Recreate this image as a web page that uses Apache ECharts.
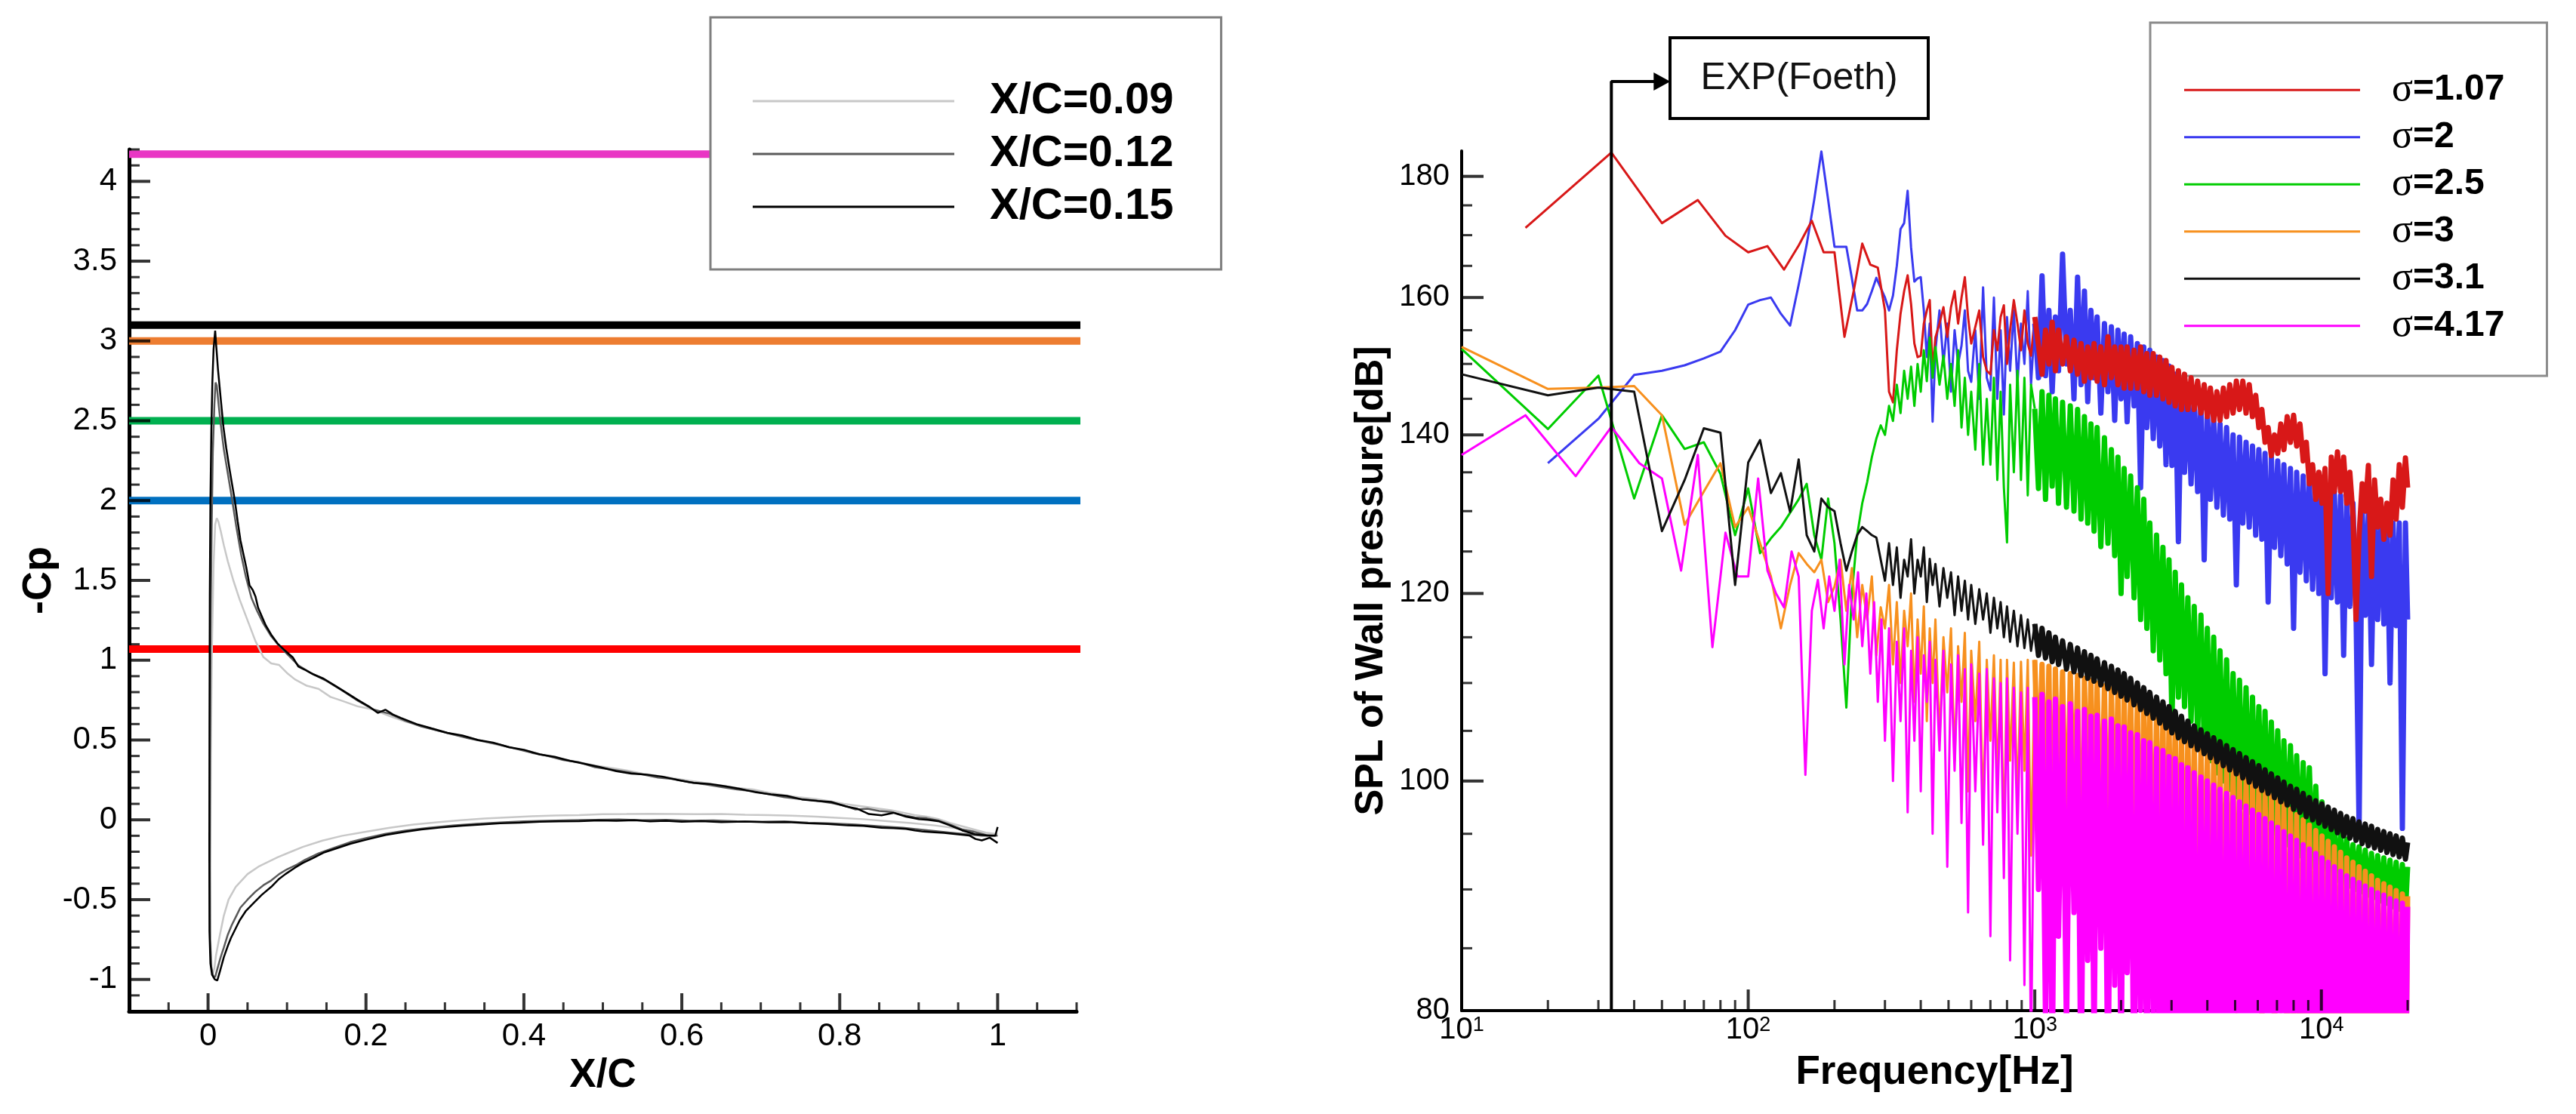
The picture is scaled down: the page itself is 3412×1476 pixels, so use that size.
<!DOCTYPE html>
<html>
<head>
<meta charset="utf-8">
<title>-Cp distribution and wall pressure spectra</title>
<script src="https://cdn.jsdelivr.net/npm/echarts@6/dist/echarts.min.js"></script>
<style>
html, body { margin: 0; padding: 0; background: #fff; }
#main { width: 3412px; height: 1476px; }
</style>
</head>
<body>
<div id="main"></div>
<script>
// ---------- left panel: -Cp along the chord ----------
var CP_NAMES = ['X/C=0.09', 'X/C=0.12', 'X/C=0.15'];
var CP_COLORS = ['#c8c8c8', '#5a5a5a', '#000000'];
var XC_LABELS = [0, 0.2, 0.4, 0.6, 0.8, 1];
var CP_LABELS = [-1, -0.5, 0, 0.5, 1, 1.5, 2, 2.5, 3, 3.5, 4];

// cavitation numbers drawn as horizontal levels
var SIGMA_LEVELS = [4.17, 3.1, 3, 2.5, 2, 1.07];
var SIGMA_COLORS = ['#e936c4', '#000000', '#ed7d31', '#00b050', '#0070c0', '#ff0000'];

// trailing edge -> suction side -> leading edge -> pressure side -> trailing edge
var CP09 = [
  [1.0,-0.09],[0.985,-0.08],[0.97,-0.06],[0.955,-0.04],[0.94,-0.02],[0.925,0.005],[0.91,0.02],[0.895,0.03],[0.88,0.045],[0.865,0.06],
  [0.85,0.07],[0.835,0.08],[0.82,0.09],[0.805,0.1],[0.79,0.115],[0.77,0.13],[0.75,0.14],[0.73,0.155],[0.71,0.17],[0.69,0.19],
  [0.67,0.2],[0.65,0.215],[0.63,0.23],[0.61,0.245],[0.59,0.26],[0.57,0.275],[0.55,0.29],[0.53,0.31],[0.51,0.325],[0.49,0.34],
  [0.47,0.36],[0.45,0.38],[0.43,0.4],[0.41,0.425],[0.39,0.445],[0.37,0.465],[0.35,0.49],[0.33,0.515],[0.31,0.535],[0.29,0.56],
  [0.27,0.59],[0.25,0.615],[0.23,0.65],[0.21,0.69],[0.19,0.71],[0.17,0.745],[0.155,0.77],[0.14,0.82],[0.125,0.84],[0.11,0.88],
  [0.1,0.92],[0.09,0.97],[0.08,0.98],[0.07,1.02],[0.06,1.12],[0.05,1.25],[0.04,1.38],[0.032,1.5],[0.025,1.62],[0.02,1.72],
  [0.016,1.81],[0.013,1.87],[0.011,1.89],[0.009,1.85],[0.007,1.6],[0.005,1.1],[0.0035,0.4],[0.0028,-0.3],[0.003,-0.75],[0.0045,-0.93],
  [0.006,-0.96],[0.008,-0.93],[0.01,-0.85],[0.015,-0.72],[0.02,-0.6],[0.026,-0.5],[0.035,-0.42],[0.05,-0.34],[0.065,-0.29],[0.088,-0.235],
  [0.105,-0.2],[0.12,-0.17],[0.145,-0.13],[0.17,-0.1],[0.2,-0.075],[0.23,-0.05],[0.26,-0.03],[0.29,-0.015],[0.32,-0.002],[0.35,0.008],
  [0.38,0.015],[0.41,0.022],[0.44,0.027],[0.47,0.03],[0.5,0.035],[0.53,0.036],[0.56,0.038],[0.59,0.037],[0.62,0.035],[0.65,0.036],
  [0.68,0.032],[0.71,0.03],[0.74,0.026],[0.77,0.02],[0.8,0.012],[0.83,0.004],[0.86,-0.008],[0.89,-0.02],[0.92,-0.035],[0.95,-0.055],
  [0.975,-0.075],[1.0,-0.09]
];
var CP12 = [
  [1.0,-0.1],[0.985,-0.095],[0.97,-0.075],[0.955,-0.06],[0.94,-0.03],[0.925,-0.005],[0.91,0.01],[0.895,0.015],[0.88,0.03],[0.865,0.05],
  [0.85,0.055],[0.835,0.07],[0.82,0.065],[0.805,0.09],[0.79,0.105],[0.77,0.12],[0.75,0.13],[0.73,0.142],[0.71,0.16],[0.69,0.18],
  [0.67,0.19],[0.65,0.205],[0.63,0.222],[0.61,0.235],[0.59,0.255],[0.57,0.265],[0.55,0.285],[0.53,0.3],[0.51,0.315],[0.49,0.33],
  [0.47,0.36],[0.45,0.375],[0.43,0.4],[0.41,0.42],[0.39,0.445],[0.37,0.47],[0.35,0.49],[0.33,0.51],[0.31,0.535],[0.29,0.56],
  [0.27,0.585],[0.25,0.62],[0.23,0.665],[0.21,0.69],[0.19,0.745],[0.17,0.81],[0.15,0.87],[0.13,0.92],[0.115,0.965],[0.1,1.04],
  [0.09,1.09],[0.08,1.15],[0.07,1.23],[0.062,1.31],[0.055,1.39],[0.048,1.52],[0.042,1.66],[0.036,1.83],[0.03,2.02],[0.025,2.17],
  [0.02,2.32],[0.016,2.48],[0.013,2.62],[0.011,2.72],[0.0095,2.74],[0.008,2.6],[0.006,2.3],[0.0045,1.8],[0.0032,1.2],[0.0025,0.4],
  [0.0022,-0.3],[0.0025,-0.75],[0.004,-0.92],[0.0065,-0.98],[0.009,-0.985],[0.012,-0.93],[0.016,-0.86],[0.02,-0.8],[0.025,-0.72],[0.03,-0.66],
  [0.036,-0.6],[0.041,-0.55],[0.05,-0.5],[0.06,-0.45],[0.07,-0.41],[0.08,-0.38],[0.09,-0.34],[0.1,-0.31],[0.113,-0.28],[0.123,-0.25],
  [0.14,-0.21],[0.16,-0.175],[0.18,-0.14],[0.2,-0.115],[0.225,-0.088],[0.25,-0.068],[0.28,-0.05],[0.31,-0.035],[0.34,-0.025],[0.37,-0.017],
  [0.4,-0.01],[0.43,-0.006],[0.46,-0.003],[0.49,0.0],[0.52,0.002],[0.55,-0.002],[0.58,0.0],[0.61,-0.006],[0.64,-0.004],[0.67,-0.01],
  [0.7,-0.012],[0.73,-0.01],[0.76,-0.018],[0.79,-0.022],[0.82,-0.03],[0.85,-0.04],[0.88,-0.05],[0.91,-0.065],[0.94,-0.08],[0.96,-0.09],
  [0.98,-0.1],[1.0,-0.1]
];
var CP15 = [
  [1.0,-0.045],[0.997,-0.1],[0.987,-0.098],[0.971,-0.09],[0.955,-0.066],[0.939,-0.034],[0.926,-0.01],[0.912,0.0],[0.9,0.005],[0.884,0.02],
  [0.868,0.044],[0.853,0.028],[0.837,0.036],[0.822,0.07],[0.808,0.084],[0.789,0.112],[0.772,0.118],[0.752,0.128],[0.733,0.15],[0.713,0.159],
  [0.694,0.172],[0.674,0.194],[0.655,0.21],[0.635,0.225],[0.615,0.232],[0.596,0.248],[0.576,0.27],[0.556,0.283],[0.536,0.29],[0.517,0.305],
  [0.497,0.33],[0.478,0.35],[0.458,0.37],[0.439,0.395],[0.42,0.41],[0.4,0.439],[0.381,0.455],[0.361,0.484],[0.342,0.5],[0.322,0.528],
  [0.303,0.545],[0.283,0.573],[0.264,0.6],[0.244,0.639],[0.234,0.66],[0.2245,0.69],[0.215,0.67],[0.205,0.706],[0.19,0.75],[0.1756,0.795],
  [0.161,0.84],[0.1464,0.884],[0.134,0.91],[0.1219,0.942],[0.1143,0.96],[0.1073,1.018],[0.0975,1.06],[0.0878,1.106],[0.08,1.16],[0.0731,1.218],
  [0.0634,1.329],[0.06,1.4],[0.0566,1.44],[0.0525,1.47],[0.0487,1.574],[0.045,1.66],[0.041,1.752],[0.0375,1.87],[0.034,1.997],[0.0305,2.1],
  [0.0272,2.197],[0.023,2.33],[0.0194,2.464],[0.016,2.64],[0.0126,2.82],[0.0105,2.96],[0.009,3.065],[0.007,2.95],[0.0055,2.75],[0.0042,2.45],
  [0.003,2.0],[0.0022,1.4],[0.0018,0.6],[0.0016,-0.2],[0.0018,-0.7],[0.003,-0.9],[0.005,-0.97],[0.0085,-1.0],[0.0117,-1.007],[0.015,-0.95],
  [0.02,-0.86],[0.025,-0.79],[0.029,-0.74],[0.035,-0.68],[0.04,-0.63],[0.048,-0.57],[0.058,-0.52],[0.068,-0.47],[0.08,-0.42],[0.09,-0.37],
  [0.098,-0.34],[0.11,-0.3],[0.12,-0.27],[0.133,-0.24],[0.146,-0.206],[0.162,-0.18],[0.18,-0.15],[0.2,-0.125],[0.225,-0.095],[0.25,-0.075],
  [0.27,-0.06],[0.295,-0.048],[0.322,-0.037],[0.345,-0.03],[0.37,-0.022],[0.395,-0.018],[0.42,-0.012],[0.445,-0.01],[0.47,-0.008],[0.495,-0.004],
  [0.517,-0.006],[0.54,-0.003],[0.56,-0.01],[0.58,-0.006],[0.6,-0.012],[0.625,-0.008],[0.65,-0.014],[0.68,-0.011],[0.71,-0.016],[0.735,-0.014],
  [0.76,-0.022],[0.785,-0.026],[0.81,-0.035],[0.83,-0.038],[0.853,-0.05],[0.868,-0.052],[0.884,-0.057],[0.895,-0.066],[0.906,-0.074],[0.92,-0.078],
  [0.932,-0.082],[0.948,-0.09],[0.964,-0.098],[0.972,-0.12],[0.98,-0.129],[0.99,-0.112],[1.0,-0.145]
];

// ---------- right panel: SPL of wall pressure ----------
var SPL_NAMES = ['σ=1.07', 'σ=2', 'σ=2.5', 'σ=3', 'σ=3.1', 'σ=4.17'];
var SPL_COLORS = ['#d81818', '#3a3af0', '#00cc00', '#f7901e', '#111111', '#ff00ff'];
var FREQ_LABELS = [10, 100, 1000, 10000];
var SPL_LABELS = [80, 100, 120, 140, 160, 180];
var EXP_FREQ = 33.3;

var FREQ_LO = [10,20,30,40,50,60,70,80,90,100,110,120,130,140,150,160,170,180,190,200,210,220,230,240,250,260,270,280,290];
var FREQ_HI = [
  300,310,320,330,340,350,360,370,380,390,
  400,410,420,430,440,450,465,480,495,510,
  525,540,555,570,585,600,620,640,660,680,
  700,720,740,760,780,800,820,845,870,895,
  920,945,970,1000,1030,1060,1090,1120,1150,1180,
  1210,1250,1290,1330,1370,1410,1450,1490,1530,1570,
  1610,1650,1700,1750,1800,1850,1900,1950,2000,2050,
  2100,2160,2220,2280,2340,2400,2460,2520,2590,2660,
  2730,2800,2870,2940,3010,3090,3170,3250,3330,3420,
  3510,3600,3700,3800,3900,4000,4100,4210,4320,4430,
  4550,4670,4790,4920,5050,5180,5320,5460,5600,5750,
  5900,6050,6200,6360,6520,6690,6860,7040,7220,7400,
  7600,7800,8000,8200,8420,8640,8860,9080,9320,9560,
  9800,10050,10300,10560,10830,11100,11380,11670,11960,12260,
  12570,12890,13210,13540,13880,14230,14590,14960,15330,15720,
  16110,16520,16930,17360,17790,18240,18700,19170,19650,20000
];
// sigma=1.07 and sigma=4.17 have their own low-frequency bins
var RED_LO_F = [16.7,33.3,50,66.7,83.3,100,116.7,133.3,150,166.7,183.3,200,216.7,233.3,250,266.7,283.3];
var MAG_LO_F = [10,16.7,25,33.3,41.7,50,58.3,66.7,75,83.3,91.7,100,108.3,116.7,125,133.3,141.7,150,158.3,166.7,
  175,183.3,191.7,200,208.3,216.7,225,233.3,241.7,250,258.3,266.7,275,283.3,291.7];

var RED_LO = [171.2,184.2,172,175.9,169.9,167.2,168.2,164.4,168.3,172.4,167.2,167.2,154,161,168.6,165.2,164.7];
var RED_HI = [
  158,146,144.5,152,157.5,161,163.5,159,153,151,
  151.2,156,158,159.6,149,153.9,156,158.5,154,158.5,
  161,156,160,163.2,157,153,155.5,158,151,149,
  148.5,155,152,157,158.8,150,155,159.6,156,152,
  158,153,151.2,157,152.7,148.5,155,150,156.2,149,
  155,150,154,149,153.5,148.5,153,147.5,152.5,148,
  153,147.5,152.5,147,154,148,152.5,147,152.5,146.5,
  152.5,146.5,152,146.5,152.5,146,151.5,145.5,151.5,145.5,
  151,145,150.5,144.5,149.5,144,149,143.5,148.5,143.5,
  148,143.5,147.5,143,147,142.5,146.5,142,146,142,
  146.5,142.5,147,143,147.5,143.5,147.5,143,147,142.5,
  145.5,141,143.5,139,141,137.2,140,137.5,141.5,138,
  142.5,139,142.7,138.5,141.5,136.5,139,133.5,136,131.5,
  135,131,135.5,120,137,132.5,137.7,132.5,137,131,
  135,129.5,117,127,133.5,130,135.9,122,134,128,
  131.5,126.5,131,127,134,129,136,130.5,136.9,133
];
var BLUE_LO = [136.2,142.2,148.4,149,149.8,150.8,151.8,155,158.9,159.6,160,157.5,155.7,162,168.5,176,184.4,176,168.1,
  168.1,168.1,163,158,158,159,161,163.1,161.5];
var BLUE_HI = [
  160,158,160.3,165,171,172,177.5,168,162.5,163,
  163.2,158,151,156,141.8,152,158,150,156,146,
  155,150,152.7,158,149,147.4,155,145,161.6,148,
  146.2,160,145,155,142.8,157,149,158,147,156,
  150,161,147,156,148,163.4,148.3,158,146,157,
  149,166.9,150,158,145,163.2,147,161,144.6,158,
  148,157,143,156,146,155.5,142,155,145,154.4,
  141.8,154,144,153,133,152.5,141,152,139.5,151,
  138.5,150.5,136,149.7,135.9,148.5,126.2,147.5,135,146,
  133.5,145.5,132.5,144.5,124,143.5,131.5,142.5,130.5,141.5,
  129.5,141,129,140,121,139.7,128.5,139,128,138.5,
  127,138,126.5,137.5,119,137,125.5,136.5,124.5,136,
  123.5,135.5,116,135,122.5,134.5,121.5,134,120.5,133.8,
  120,133.6,111,133,119.5,132.5,119,132,113,131.5,
  118.5,131,118,95.5,130.5,117.5,130,112,129.5,117,
  129,116.5,129,110,128.5,116.3,128.5,95.5,128.5,117
];
var GREEN_LO = [152.2,140.8,148.3,131.6,142.7,138.1,139,134.8,127,132.9,124.8,126.6,128,129.8,131.5,133.5,127,124,131.6,
  126,117,107.4,120,127,131,133.7,137,139.5,141.3];
var GREEN_HI = [
  140,144,141.9,147,143,149,145,149.6,144,150,
  146,152,147.5,153.9,148,152.5,147,151.2,145,150,
  144,152,141,148,140,146,138,150,136,145,
  136,148,134,146,133,126.1,147,135,149,134,
  148,132,147,143.6,132.9,146,131.5,145.5,133.2,145,
  131,144.5,130.5,144,130,143.5,129,142.5,128.5,141.5,
  127.5,141,125.6,139.6,126,138,124.5,137,120,135.5,
  122,134.5,119.5,133,117,131.5,116,128.5,113.5,127,
  112.5,125.5,111,124,106,122.5,108.5,121,107.5,119.5,
  106,118.5,104.5,117.5,103.5,116,102,115,100.8,113.5,
  100,112.5,99.2,111,98.5,110.3,97.5,109.5,97,108.5,
  96.5,107.5,96,107,95.5,105.9,95,105,94.5,104,
  94,103.5,93.5,102.5,93,101.8,92.5,101.3,92,99.5,
  91.8,98,91.5,96.4,91,95.5,90.8,95,90.5,94.5,
  90.3,94,90,93.8,89.8,93.5,89.5,93.2,89.3,93,
  89,92.8,88.8,92.6,88.5,92.4,88.3,92.2,88,92
];
var ORANGE_LO = [152.5,146.4,146.6,146.8,142.7,128.3,132.5,136.2,128,130.5,126,122,116,121,124.8,123.5,122.5,124,119,
  120.8,124,118,123,115,121,117,122,113,118.4];
var ORANGE_HI = [
  116,121,112,119,110,118,114,120,108,117,
  111,118.5,106,116,110,117,104,115,109,116,
  102,114,108,115.5,99,113.5,106,114.5,97,112.5,
  104,113,100,112.5,94,112.5,102,112.2,98,112.3,
  101,112.5,93,112.5,99,112,95,111.8,86,111.5,
  97,111.2,92,111,96,110.8,81,110.5,95,110.3,
  91,110,94,109.7,88,109.4,93,109.1,86,108.8,
  92,108.8,90,108.3,84,107.8,91,107.3,87,106.8,
  89,106.3,83,105.8,88,105.3,86,104.8,85,104.3,
  87,103.8,84,103.3,86,102.8,82,102.3,85,101.9,
  83,101.5,84,101.1,80,100.7,83,100.3,81,99.9,
  82,99.4,79,99,81,98.6,78,98.2,80,97.8,
  77,97.3,79,96.8,76,96.3,78,95.8,75,95.3,
  77,94.8,75,94.3,76,93.8,74,93.3,75,92.8,
  74,92.4,73,92,74,91.6,73,91.2,72,90.8,
  73,90.5,72,90.2,71,89.9,72,89.6,71,89.4
];
var BLACK_LO = [148.5,145.5,146.6,146,127.5,134,140.9,140.3,121,136.3,139.3,132.3,134.9,129.9,136.7,127,125,131.6,130.5,
  130,126,122.7,125,127,128,127.5,127,126.7,124];
var BLACK_HI = [
  121.5,126,121,125.5,119.5,124,122,126.5,120,124,
  122,125.5,119,124.1,121,123.5,118.5,123,119.5,122.5,
  117.5,122,118,121.5,117,121,116.5,120.5,117,120,
  115.5,119.5,116,119,115,118.5,114.5,118,114,117.5,
  113.8,117,113.5,116.5,113,116,112.7,115.5,112.3,115,
  112,114.6,111.5,114.2,111.2,113.8,110.8,113.4,110.5,113,
  110.2,112.6,109.8,112.2,109.4,111.8,109,111.4,108.6,111,
  108.2,110.5,107.7,110,107.2,109.5,106.8,109,106.3,108.5,
  105.8,108,105.3,107.5,104.8,107,104.3,106.5,103.9,106,
  103.5,105.5,103.1,105.1,102.7,104.7,102.3,104.3,101.9,103.9,
  101.5,103.5,101.1,103.1,100.7,102.7,100.3,102.3,99.9,101.9,
  99.5,101.5,99.1,101.1,98.8,100.7,98.4,100.3,98,99.9,
  97.7,99.5,97.3,99.2,97,98.8,96.6,98.4,96.3,98.1,
  96,97.8,95.7,97.5,95.4,97.2,95.1,96.9,94.8,96.6,
  94.6,96.4,94.4,96.1,94.1,95.9,93.9,95.7,93.7,95.4,
  93.5,95.2,93.3,95,93.1,94.8,92.9,94.6,92.7,94.2
];
var MAG_LO = [137.3,142.7,134.5,141.1,136.2,134.2,122.7,137.3,113.9,127.3,122,122,134.2,122.7,120,118.4,125,122,100.6,118,
  121.6,116,122,118,124,112,121,117,122.5,114,120,111,119,108,117];
var MAG_HI = [
  104,116,100,114.5,106,116,97,113.5,104,115,
  99,113,108,114.5,95,112.5,103,113.5,92,112,
  101,113,96,111.5,88,112,99,111,94,111.5,
  86,110.5,97,110,91,110.5,84,109.5,95,109,
  82,109.5,76,108.5,90,108.8,79,108,74,108.3,
  86,107.5,78,107.8,88,107,73,107.2,84,106.5,
  77,106.6,85,106,73,106.2,82,105.5,75,105.4,
  83,104.8,72,104.6,80,104,74,103.8,79,103.2,
  71,103,78,102.4,72,102.2,77,101.6,70,101.3,
  75,100.8,70,100.4,74,100,70,99.6,72,99.2,
  70,98.8,76,98.4,70,98,74,97.6,70,97.2,
  72,96.8,70,96.4,71,96,70,95.6,70,95.2,
  70,94.8,70,94.4,70,94,70,93.6,70,93.2,
  70,92.8,70,92.4,70,92,70,91.6,70,91.2,
  70,90.9,70,90.6,70,90.3,70,90,70,89.7,
  70,89.5,70,89.2,70,89,70,88.8,70,88.5
];

function pairs(fs, vs) {
  return fs.map(function (f, i) { return [f, vs[i]]; });
}

// minor tick positions
var xcMinor = [], cpMinor = [], freqMinor = [], splMinor = [];
for (var k = -1; k <= 22; k++) { if (k % 4 !== 0) xcMinor.push(k / 20); }
for (var k = -12; k <= 42; k++) { if (k % 5 !== 0) cpMinor.push(k / 10); }
[10, 100, 1000, 10000].forEach(function (d) {
  for (var m = 2; m <= 9; m++) { if (m * d <= 20000) freqMinor.push(m * d); }
});
for (var v = 85; v <= 180; v += 5) { if (v % 20 !== 0) splMinor.push(v); }

var FONT = 'Liberation Sans, Arial, sans-serif';
var chart = echarts.init(document.getElementById('main'));

function valueAxis(extra) {
  var base = {
    splitLine: { show: false },
    axisTick: { show: false },
    axisLine: { onZero: false, lineStyle: { color: '#000', width: 5 } },
    axisLabel: { color: '#000', fontFamily: FONT },
    nameTextStyle: { color: '#000', fontWeight: 'bold', fontFamily: FONT }
  };
  return echarts.util.merge(base, extra, true);
}

// inward tick marks, placed through the axes' own scales
function ticks(xi, yi, pts, size, offset) {
  return {
    type: 'scatter', xAxisIndex: xi, yAxisIndex: yi, silent: true, clip: false, z: 5,
    symbol: 'rect', symbolSize: size, symbolOffset: offset,
    itemStyle: { color: '#000' }, data: pts
  };
}

var series = [];
SIGMA_LEVELS.forEach(function (lvl, i) {
  series.push({
    type: 'line', xAxisIndex: 0, yAxisIndex: 0, silent: true, clip: false,
    symbol: 'none', z: 2,
    data: [[-0.1, lvl], [1.125, lvl]],
    lineStyle: { color: SIGMA_COLORS[i], width: 10 }
  });
});
[CP09, CP12, CP15].forEach(function (d, i) {
  series.push({
    name: CP_NAMES[i], type: 'line', xAxisIndex: 0, yAxisIndex: 0,
    symbol: 'none', z: 3, data: d,
    itemStyle: { color: CP_COLORS[i] },
    lineStyle: { color: CP_COLORS[i], width: 2.5 }
  });
});

var splData = [
  pairs(RED_LO_F, RED_LO).concat(pairs(FREQ_HI, RED_HI)),
  pairs(FREQ_LO.slice(1), BLUE_LO).concat(pairs(FREQ_HI, BLUE_HI)),
  pairs(FREQ_LO, GREEN_LO).concat(pairs(FREQ_HI, GREEN_HI)),
  pairs(FREQ_LO, ORANGE_LO).concat(pairs(FREQ_HI, ORANGE_HI)),
  pairs(FREQ_LO, BLACK_LO).concat(pairs(FREQ_HI, BLACK_HI)),
  pairs(MAG_LO_F, MAG_LO).concat(pairs(FREQ_HI, MAG_HI))
];
// draw order: blue, red, green, orange, magenta, black
// below 1 kHz the spectra are thin lines, above it the bins are dense and drawn heavier
var ORDER = [1, 0, 2, 3, 5, 4];
['lo', 'hi'].forEach(function (part) {
  ORDER.forEach(function (i) {
    var full = splData[i];
    var cut = full.findIndex(function (p) { return p[0] === 1000; });
    var d = part === 'lo' ? full.slice(0, cut + 1) : full.slice(cut);
    series.push({
      name: SPL_NAMES[i], type: 'line', xAxisIndex: 1, yAxisIndex: 1,
      symbol: 'none', z: 3, data: d,
      itemStyle: { color: SPL_COLORS[i] },
      lineStyle: { color: SPL_COLORS[i], width: part === 'lo' ? 3 : 7, join: 'round' }
    });
  });
});
// EXP(Foeth) pointer
series.push({
  type: 'line', xAxisIndex: 1, yAxisIndex: 1, silent: true, clip: false, z: 6,
  symbol: 'none', showSymbol: true,
  data: [[EXP_FREQ, 80], [EXP_FREQ, 197.4],
    { value: [50, 197.4], symbol: 'triangle', symbolSize: [24, 22], symbolRotate: -90 }],
  itemStyle: { color: '#000' },
  lineStyle: { color: '#000', width: 4 }
});

// tick marks
series.push(
  ticks(0, 0, CP_LABELS.map(function (v) { return [-0.1, v]; }), [28, 4], [14, 0]),
  ticks(0, 0, cpMinor.map(function (v) { return [-0.1, v]; }), [14, 3], [7, 0]),
  ticks(0, 0, XC_LABELS.map(function (v) { return [v, -1.2]; }), [4, 24], [0, -12]),
  ticks(0, 0, xcMinor.map(function (v) { return [v, -1.2]; }), [3, 12], [0, -6]),
  ticks(1, 1, SPL_LABELS.map(function (v) { return [10, v]; }), [29, 4], [14.5, 0]),
  ticks(1, 1, splMinor.map(function (v) { return [10, v]; }), [14, 3], [7, 0]),
  ticks(1, 1, FREQ_LABELS.map(function (f) { return [f, 80]; }), [4, 28], [0, -14]),
  ticks(1, 1, freqMinor.map(function (f) { return [f, 80]; }), [3, 14], [0, -7])
);

var option = {
  animation: false,
  backgroundColor: '#fff',
  textStyle: { fontFamily: FONT },
  grid: [
    { left: 171, top: 198, width: 1255, height: 1142, outerBoundsMode: 'none' },
    { left: 1936, top: 200, width: 1253, height: 1139, outerBoundsMode: 'none' }
  ],
  legend: [
    {
      data: CP_NAMES, left: 941, top: 23, orient: 'vertical', selectedMode: false,
      icon: 'rect', itemWidth: 267, itemHeight: 3, itemGap: 0,
      padding: [76, 63, 48, 56], backgroundColor: '#fff',
      borderColor: '#7f7f7f', borderWidth: 3, z: 10,
      textStyle: { fontSize: 58, fontWeight: 'bold', color: '#000', lineHeight: 70, padding: [0, 0, 0, 42] }
    },
    {
      data: SPL_NAMES, left: 2848, top: 30, orient: 'vertical', selectedMode: false,
      icon: 'rect', itemWidth: 233, itemHeight: 3, itemGap: 0,
      padding: [58, 56, 35, 45], backgroundColor: 'rgba(0,0,0,0)',
      borderColor: '#8c8c8c', borderWidth: 3, z: 1,
      formatter: function (n) { return '{g|σ}{b|' + n.slice(1) + '}'; },
      textStyle: {
        lineHeight: 62.5, padding: [0, 0, 0, 37],
        rich: {
          g: { fontFamily: 'Liberation Serif, serif', fontSize: 52, color: '#000', lineHeight: 62.5 },
          b: { fontSize: 48, fontWeight: 'bold', color: '#000', lineHeight: 62.5 }
        }
      }
    }
  ],
  xAxis: [
    valueAxis({
      type: 'value', gridIndex: 0, position: 'bottom', min: -0.1, max: 1.1,
      name: 'X/C', nameLocation: 'middle', nameGap: 56, nameTextStyle: { fontSize: 53 },
      axisLabel: { fontSize: 42, margin: 12, customValues: XC_LABELS }
    }),
    valueAxis({
      type: 'log', logBase: 10, gridIndex: 1, position: 'bottom', min: 10, max: 20000,
      name: 'Frequency[Hz]', nameLocation: 'middle', nameGap: 56, nameTextStyle: { fontSize: 53 },
      axisLine: { lineStyle: { width: 4 } },
      axisLabel: {
        margin: 6, customValues: FREQ_LABELS,
        formatter: function (v) { return '{b|10}{s|' + Math.round(Math.log10(v)) + '}'; },
        rich: {
          b: { fontSize: 40, color: '#000', fontFamily: FONT },
          s: { fontSize: 27, color: '#000', fontFamily: FONT, verticalAlign: 'top' }
        }
      }
    })
  ],
  yAxis: [
    valueAxis({
      type: 'value', gridIndex: 0, position: 'left', min: -1.2, max: 4.2,
      name: '-Cp', nameLocation: 'middle', nameGap: 89, nameTextStyle: { fontSize: 54 },
      axisLabel: { fontSize: 42, margin: 16, customValues: CP_LABELS }
    }),
    valueAxis({
      type: 'log', logBase: 10, gridIndex: 1, position: 'left', min: 80, max: 184.5,
      name: 'SPL of Wall pressure[dB]', nameLocation: 'middle', nameGap: 93, nameTextStyle: { fontSize: 52 },
      axisLine: { lineStyle: { width: 4 } },
      axisLabel: { fontSize: 40, margin: 16, customValues: SPL_LABELS }
    })
  ],
  graphic: [
    { type: 'rect', z: 20, shape: { x: 2212, y: 50, width: 342, height: 107 },
      style: { fill: '#fff', stroke: '#000', lineWidth: 4 } },
    { type: 'text', z: 21, x: 2383, y: 104,
      style: { text: 'EXP(Foeth)', fontSize: 50, fontFamily: FONT, fill: '#111', align: 'center', verticalAlign: 'middle' } }
  ],
  series: series
};

chart.setOption(option);
</script>
</body>
</html>
